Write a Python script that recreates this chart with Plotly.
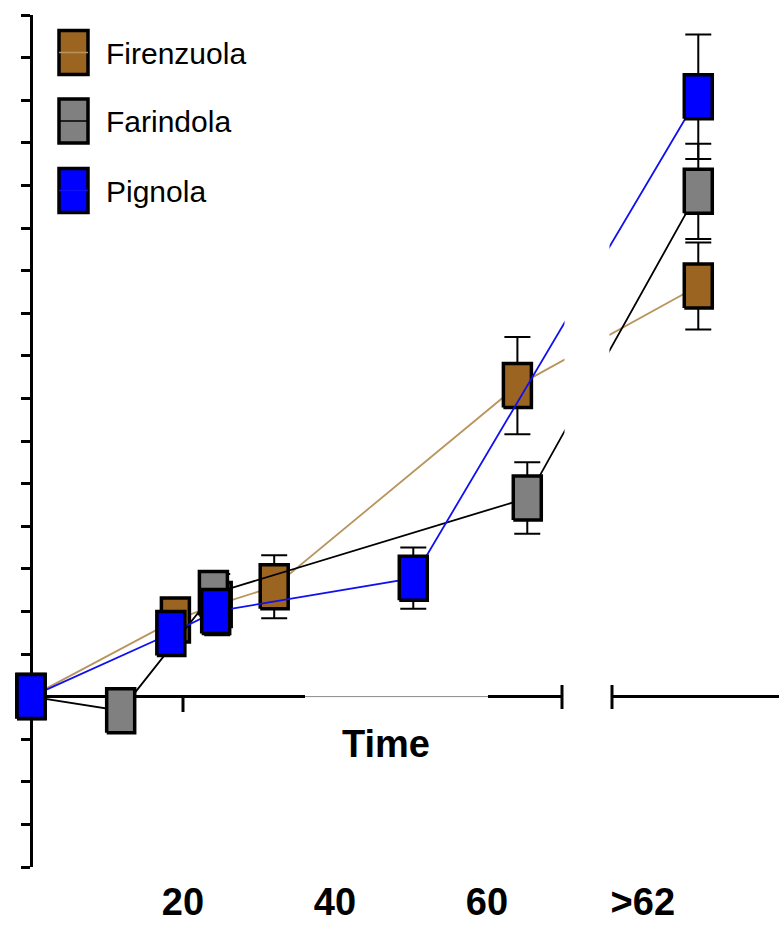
import plotly.graph_objects as go

# ---------------- data ----------------
series_names = ["Firenzuola", "Farindola", "Pignola"]
fill_colors = ["#9B6420", "#808080", "#0000FF"]
line_colors = ["#B8955E", "#000000", "#1010F0"]

gt = 87.8  # position of the ">62" group on the broken axis

fir_t = [0, 19.0, 24.5, 32.0, 64.0, gt]
fir_y = [0, 0.90, 1.08, 1.29, 3.65, 4.82]
fir_e = [0.12, 0.20, 0.36, 0.37, 0.57, 0.51]

far_t = [0, 11.8, 24.0, 65.3, gt]
far_y = [0, -0.165, 1.21, 2.33, 5.93]
far_e = [0.10, 0.15, 0.20, 0.42, 0.56]

pig_t = [0, 18.4, 24.3, 50.3, gt]
pig_y = [0, 0.74, 1.00, 1.39, 7.04]
pig_e = [0.10, 0.20, 0.20, 0.36, 0.73]

tick_vals = [20, 40, 60, 80.5]
tick_text = ["20", "40", "60", ">62"]
x_title = "Time"

# ---------------- geometry / style ----------------
W, H = 779, 926
ML, MR, MT, MB = 0, 0, 15, 59
PXU = 7.6                       # px per x unit
X0 = -31 / PXU
X1 = X0 + (W - ML - MR) / PXU
Y0, Y1 = -2, 8
PYU = (H - MT - MB) / (Y1 - Y0)

HW = 14 / PXU   # half box width
HH = 22 / PYU   # half box height


def px_t(px):
    return X0 + px / PXU


def pxy(py):
    return Y0 + (H - MB - py) / PYU


def paper_x(px):
    return (px - ML) / (W - ML - MR)


def paper_y(py):
    return (H - MB - py) / (H - MT - MB)


fig = go.Figure()

all_series = [(fir_t, fir_y, fir_e), (far_t, far_y, far_e), (pig_t, pig_y, pig_e)]
for (t, y, e), name, fc, lc in zip(all_series, series_names, fill_colors, line_colors):
    fig.add_trace(go.Scatter(
        x=t, y=y, mode="lines", name=name, showlegend=False,
        line=dict(color=lc, width=1.8),
        error_y=dict(type="data", array=e, visible=True, color="black",
                     thickness=2, width=13),
    ))
    bx, by = [], []
    for ti, yi in zip(t, y):
        bx += [ti - HW, ti + HW, ti + HW, ti - HW, ti - HW, None]
        by += [yi - HH, yi - HH, yi + HH, yi + HH, yi - HH, None]
    fig.add_trace(go.Scatter(
        x=bx, y=by, mode="lines", fill="toself", fillcolor=fc,
        line=dict(color="black", width=3.5), showlegend=False, hoverinfo="skip",
    ))

shapes = []
# broken x axis line
axis_segments = [
    (px_t(31), px_t(305), "black", 3),
    (px_t(305), px_t(488), "#8a8a8a", 1),
    (px_t(488), px_t(562), "black", 3),
    (px_t(612), px_t(779), "black", 3),
]
for a, b, c, w in axis_segments:
    shapes.append(dict(type="line", xref="x", yref="y", x0=a, x1=b, y0=0, y1=0,
                       line=dict(color=c, width=w), layer="below"))
# tick at 20
shapes.append(dict(type="line", xref="x", yref="y", x0=20, x1=20, y0=0, y1=pxy(712),
                   line=dict(color="black", width=3), layer="below"))
# white gap hiding lines
shapes.append(dict(type="rect", xref="x", yref="y", x0=px_t(564.5), x1=px_t(609.5),
                   y0=Y0, y1=Y1, fillcolor="white", line=dict(width=0), layer="above"))
# break caps
for cx in (562, 612):
    shapes.append(dict(type="line", xref="x", yref="y", x0=px_t(cx), x1=px_t(cx),
                       y0=pxy(685), y1=pxy(709), line=dict(color="black", width=3),
                       layer="above"))

# manual legend
annotations = []
row_y = [52.5, 121, 190.5]
for name, fc, lc, ry in zip(series_names, fill_colors, line_colors, row_y):
    shapes.append(dict(type="rect", xref="paper", yref="paper",
                       x0=paper_x(59), x1=paper_x(88), y0=paper_y(ry + 22), y1=paper_y(ry - 22),
                       fillcolor=fc, line=dict(color="black", width=3.5), layer="above"))
    shapes.append(dict(type="line", xref="paper", yref="paper",
                       x0=paper_x(59), x1=paper_x(88), y0=paper_y(ry), y1=paper_y(ry),
                       line=dict(color=lc, width=1.5), layer="above"))
    annotations.append(dict(xref="paper", yref="paper", x=paper_x(104), y=paper_y(ry + 1),
                            text=name, showarrow=False, xanchor="left", yanchor="middle",
                            font=dict(family="Liberation Sans, Arial, sans-serif",
                                      size=30, color="black")))

annotations.append(dict(xref="paper", yref="paper", x=paper_x(386), y=paper_y(744),
                        text=x_title, showarrow=False, xanchor="center", yanchor="middle",
                        font=dict(family="Liberation Sans, Arial, sans-serif", size=38,
                                  color="black", weight="bold")))

fig.update_layout(
    width=W, height=H,
    margin=dict(l=ML, r=MR, t=MT, b=MB, pad=0, autoexpand=False),
    paper_bgcolor="white", plot_bgcolor="white",
    showlegend=False,
    shapes=shapes, annotations=annotations,
    xaxis=dict(range=[X0, X1], showgrid=False, zeroline=False, showline=False,
               automargin=False,
               ticks="", tickvals=tick_vals, ticktext=tick_text,
               ticklabelstandoff=9,
               tickfont=dict(family="Liberation Sans, Arial, sans-serif",
                             size=38, color="black", weight="bold")),
    yaxis=dict(range=[Y0, Y1], anchor="free", position=paper_x(31),
               automargin=False,
               showgrid=False, zeroline=False, showline=True, linewidth=3,
               linecolor="black", ticks="outside", ticklen=9, tickwidth=3,
               tickcolor="black", tick0=0, dtick=0.5, showticklabels=False,
               layer="below traces"),
)

fig.write_html("out.html")
